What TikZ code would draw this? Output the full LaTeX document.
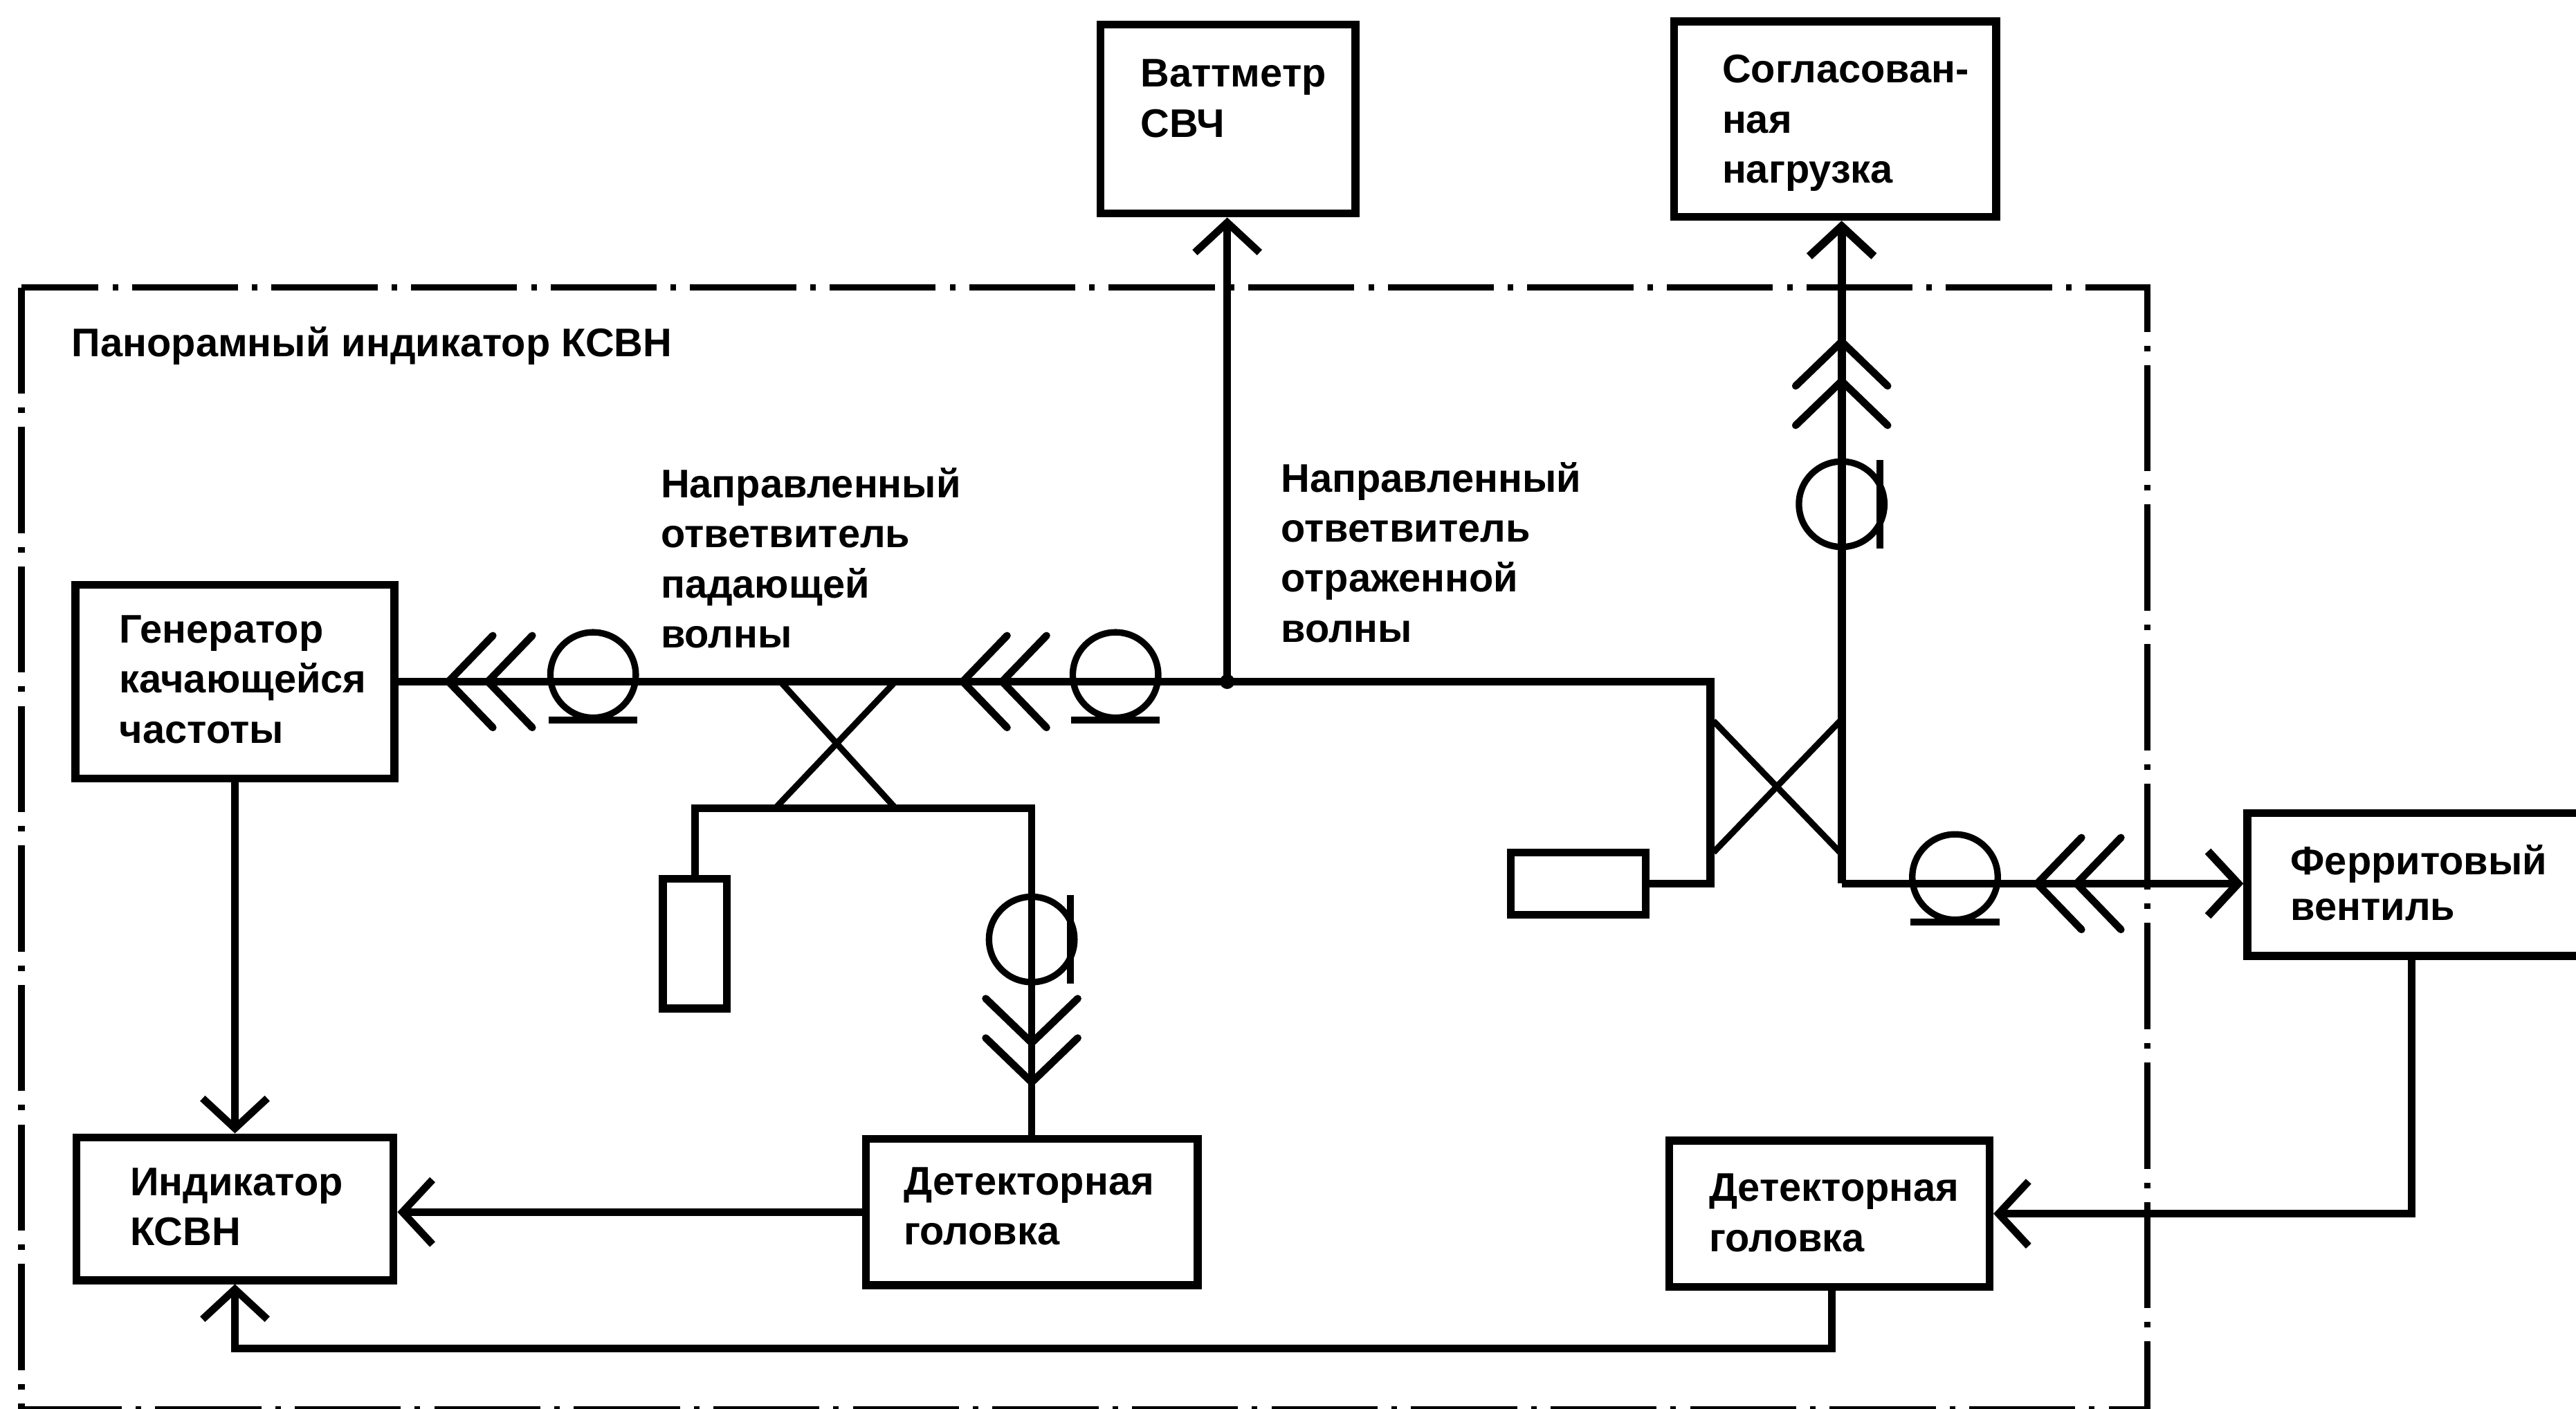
\documentclass[tikz,border=0pt]{standalone}
\usepackage{fontspec}
\setmainfont{Liberation Sans}
\usetikzlibrary{arrows.meta}
\begin{document}
\begin{tikzpicture}[x=0.025cm,y=-0.025cm,
  blk/.style={draw, line width=3.4pt, inner sep=0pt},
  lbl/.style={inner sep=0pt, anchor=base west, align=left, font=\fontsize{17.3}{21.7}\selectfont\bfseries},
  wg/.style={line width=3.5pt},
  sig/.style={line width=3.2pt},
  xl/.style={line width=2.7pt},
  arr/.style={-{Straight Barb[length=13pt,width=28pt]}},
  frame/.style={line width=2.8pt, dash pattern=on 46pt off 6pt on 2.4pt off 6pt},
  chev/.pic={\draw[line width=3.2pt, line cap=round] (27,-28) -- (0,0) -- (27,28);
             \draw[line width=3.2pt, line cap=round] (51,-28) -- (24,0) -- (51,28);},
  loop/.pic={\draw[line width=2.8pt] (0,#1) circle[radius=26];
             \draw[line width=3pt] (-27,23.5) -- (27,23.5);}
]
\useasboundingbox (0,0) rectangle (1568,857.5);
% frame
\draw[frame] (13,175) rectangle (1307,858);
% boxes
\node[blk, minimum width=4.85cm, minimum height=2.95cm] (gen) at (143,415) {};
\node[blk, minimum width=4.825cm, minimum height=2.175cm] (ind) at (143,736) {};
\node[blk, minimum width=5.05cm, minimum height=2.225cm] (det1) at (628,738) {};
\node[blk, minimum width=4.875cm, minimum height=2.225cm] (det2) at (1113.5,739) {};
\node[blk, minimum width=3.875cm, minimum height=2.875cm] (watt) at (747.5,72.5) {};
\node[blk, minimum width=4.9cm, minimum height=2.975cm] (sogl) at (1117,72.5) {};
\node[blk, minimum width=5.55cm, minimum height=2.175cm] (ferr) at (1479,538.5) {};
\node[blk, minimum width=2.05cm, minimum height=0.95cm] (load2) at (960.6,538) {};
\node[blk, minimum width=0.975cm, minimum height=1.975cm] (load1) at (423,574.5) {};
% texts (anchored at the baseline of the last line)
\node[lbl] (title) at (43.5,217) {Панорамный индикатор КСВН};
\node[lbl] (gent) at (72.5,452.5) {Генератор\\качающейся\\частоты};
\node[lbl] (indt) at (79,758.5) {Индикатор\\КСВН};
\node[lbl] (det1t) at (550,758) {Детекторная\\головка};
\node[lbl] (det2t) at (1040,762) {Детекторная\\головка};
\node[lbl] (wattt) at (694,83.5) {Ваттметр\\СВЧ};
\node[lbl] (soglt) at (1048,111.5) {Согласован-\\ная\\нагрузка};
\node[lbl, font=\fontsize{17.3}{19.7}\selectfont\bfseries] (ferrt) at (1394,560.2) {Ферритовый\\вентиль};
\node[lbl] (c1t) at (402,394.5) {Направленный\\ответвитель\\падающей\\волны};
\node[lbl] (c2t) at (779.5,391) {Направленный\\ответвитель\\отраженной\\волны};
% coordinates
\coordinate (m1) at (1041,415);
\coordinate (m2) at (1041,538);
\coordinate (jn) at (747,415);
\coordinate (s1) at (628,492);
\coordinate (s2) at (423,492);
\coordinate (r1) at (1121,538);
\coordinate (f1) at (1468,739);
\coordinate (b1) at (1115,821);
\coordinate (b2) at (143,821);
% waveguide lines
\draw[wg] (gen.east) -- (m1) -- (m2) -- (load2.east);
\fill (jn) circle[radius=4.5];
\draw[sig,arr] (jn) -- (jn |- watt.south);
\draw[sig] (det1.north) -- (s1) -- (s2) -- (load1.north);
\draw[xl] (475,415) -- (545,492) (472,492) -- (545,415);
\draw[wg,arr] (r1) -- (r1 |- sogl.south);
\draw[wg,arr] (r1) -- (r1 -| ferr.west);
\draw[xl] (1043,439) -- (1120,519) (1120,439) -- (1043,519);
% signal lines
\draw[sig,arr] (f1 |- ferr.south) -- (f1) -- (f1 -| det2.east);
\draw[sig,arr] (b1 |- det2.south) -- (b1) -- (b2) -- (ind.south);
\draw[sig,arr] (det1.west) -- (det1.west -| ind.east);
\draw[sig,arr] (gen.south) -- (ind.north);
% symbols
\pic at (273,415) {chev};
\pic at (361,415) {loop=-4};
\pic at (586,415) {chev};
\pic at (679,415) {loop=-4};
\pic[rotate=90] at (628,659) {chev};
\pic[rotate=90] at (628,572) {loop=0};
\pic[rotate=-90] at (1121,208) {chev};
\pic[rotate=90] at (1121,307) {loop=0};
\pic at (1190,538) {loop=-4};
\pic at (1240,538) {chev};
\end{tikzpicture}
\end{document}
